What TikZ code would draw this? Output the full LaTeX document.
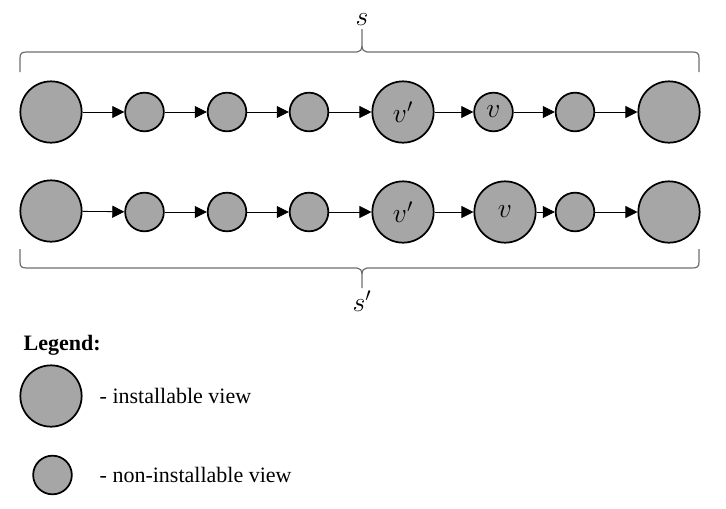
\documentclass[tikz,border=0pt]{standalone}
\usepackage{fontspec}
\setmainfont{Liberation Serif}
\usetikzlibrary{arrows.meta,positioning}
\definecolor{viewgray}{RGB}{166,166,166}
\definecolor{bracegray}{RGB}{110,110,110}

\begin{document}
\begin{tikzpicture}[x=0.75pt,y=-0.75pt,
    font=\fontsize{16.5}{20}\selectfont,
    bigview/.style={draw, circle, line width=1.3pt, fill=viewgray, minimum size=46pt, inner sep=0pt,
        font=\fontsize{20}{24}\selectfont},
    smallview/.style={draw, circle, line width=1.3pt, fill=viewgray, minimum size=29pt, inner sep=0pt,
        font=\fontsize{20}{24}\selectfont},
    link/.style={-{Triangle[length=9pt,width=9pt]}, line width=0.6pt},
    bracket/.style={draw=bracegray, line width=0.9pt},
    seqname/.style={font=\fontsize{20}{24}\selectfont}]
    \useasboundingbox (0,0) rectangle (726,508);

    % sequence s
    \node[bigview]   (t1) at (51,112) {};
    \node[smallview] (t2) at (144.5,112) {};
    \node[smallview] (t3) at (227,112) {};
    \node[smallview] (t4) at (309,112) {};
    \node[bigview]   (t5) at (403,112) {$v'$};
    \node[smallview] (t6) at (493.5,112) {$v$};
    \node[smallview] (t7) at (575,112) {};
    \node[bigview]   (t8) at (669,112) {};

    % sequence s'
    \node[bigview]   (b1) at (51,211) {};
    \node[smallview] (b2) at (144.5,212) {};
    \node[smallview] (b3) at (227,212) {};
    \node[smallview] (b4) at (309,212) {};
    \node[bigview]   (b5) at (403,212) {$v'$};
    \node[bigview]   (b6) at (505,212) {$v$};
    \node[smallview] (b7) at (575,212) {};
    \node[bigview]   (b8) at (669,212) {};

    \foreach \i/\j in {1/2,2/3,3/4,4/5,5/6,6/7,7/8} {
        \draw[link] (t\i) -- (t\j);
        \draw[link] (b\i) -- (b\j);
    }

    % braces
    \draw[bracket] (20,72) -- (20,58) .. controls (20,53) and (22,52) .. (27,52)
        -- (357,52) .. controls (360,52) and (362,50) .. (362,45) -- (362,29)
        -- (362,45) .. controls (362,50) and (364,52) .. (367,52)
        -- (692,52) .. controls (697,52) and (699,53) .. (699,58) -- (699,72);
    \node[seqname] (s) at (362,20) {$s$};

    \draw[bracket] (20,249) -- (20,262) .. controls (20,267) and (22,268) .. (27,268)
        -- (357,268) .. controls (360,268) and (362,270) .. (362,275) -- (362,288)
        -- (362,275) .. controls (362,270) and (364,268) .. (367,268)
        -- (692,268) .. controls (697,268) and (699,267) .. (699,262) -- (699,249);
    \node[seqname] (s2) at (362,301) {$s'$};

    % legend
    \node[anchor=west, font=\fontsize{16.5}{20}\selectfont\bfseries] (legend) at (19,345) {Legend:};
    \node[bigview]   (lbig)   at (51,396) {};
    \node[anchor=west] (lbigtext) at (95,396) {- installable view};
    \node[smallview] (lsmall) at (52.5,475) {};
    \node[anchor=west] (lsmalltext) at (95,475) {- non-installable view};
\end{tikzpicture}
\end{document}
